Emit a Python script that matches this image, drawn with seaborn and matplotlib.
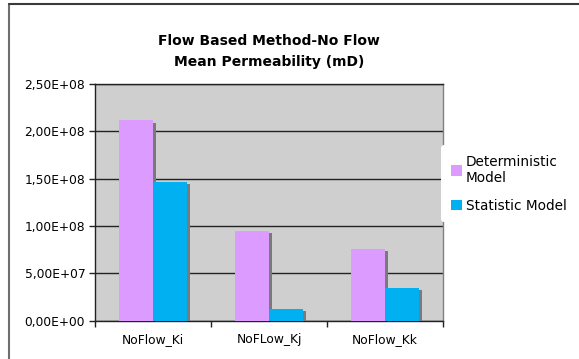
import matplotlib
matplotlib.use("Agg")
import matplotlib.pyplot as plt
import matplotlib.patheffects as pe
from matplotlib.ticker import FuncFormatter, MultipleLocator, FixedLocator
from matplotlib.lines import Line2D
import seaborn as sns
import pandas as pd

# Mean permeability per boundary case
categories = ["NoFlow_Ki", "NoFLow_Kj", "NoFlow_Kk"]
deterministic = [2.115e8, 9.45e7, 7.57e7]
statistic = [1.465e8, 1.24e7, 3.45e7]
series_names = ["Deterministic\nModel", "Statistic Model"]
title = "Flow Based Method-No Flow\nMean Permeability (mD)"

df = pd.DataFrame({
    "case": categories * 2,
    "model": [series_names[0]] * 3 + [series_names[1]] * 3,
    "value": deterministic + statistic,
})

sns.set_style("white")
plt.rcParams["font.family"] = ["DejaVu Sans"]
plt.rcParams["text.color"] = "black"
plt.rcParams["xtick.color"] = "black"
plt.rcParams["ytick.color"] = "black"

fig = plt.figure(figsize=(5.79, 3.59), dpi=100)
ax = fig.add_axes([0.164, 0.107, 0.601, 0.659])
ax.set_facecolor("#CFCFCF")

palette = {series_names[0]: "#DB9BFF", series_names[1]: "#00B0F0"}
sns.barplot(data=df, x="case", y="value", hue="model", palette=palette,
            width=0.59, saturation=1, ax=ax, zorder=3, errorbar=None,
            edgecolor="none", linewidth=0)

# drop shadow behind every bar
shadow = [pe.SimplePatchShadow(offset=(2.2, -1.6), shadow_rgbFace="#7A7A7A", alpha=1.0),
          pe.Normal()]
for p in ax.patches:
    p.set_path_effects(shadow)

ax.set_ylim(0, 2.5e8)
ax.set_xlim(-0.5, 2.5)
ax.yaxis.set_major_locator(MultipleLocator(5e7))
ax.yaxis.set_major_formatter(FuncFormatter(lambda v, _: f"{v:.2E}".replace(".", ",")))
ax.grid(axis="y", color="#222222", linewidth=1.0, zorder=1)
ax.set_axisbelow(True)

ax.xaxis.set_minor_locator(FixedLocator([-0.5, 0.5, 1.5, 2.5]))
ax.tick_params(axis="x", which="major", length=0, pad=9, labelsize=8.8, colors="black")
ax.tick_params(axis="x", which="minor", length=4, width=1, direction="out", color="#222222")
ax.tick_params(axis="y", which="major", length=4, width=1, direction="out", color="#222222",
               labelsize=8.8, labelcolor="black", pad=3)
ax.tick_params(axis="x", which="both", labelcolor="black")
ax.tick_params(bottom=True, left=True, which="both")

for side in ["left", "bottom", "top"]:
    ax.spines[side].set_color("#222222")
    ax.spines[side].set_linewidth(1.0)
ax.spines["right"].set_color("#808080")
ax.spines["right"].set_linewidth(1.0)

ax.set_xlabel("")
ax.set_ylabel("")
ax.set_title(title, fontsize=10, fontweight="bold", pad=13, linespacing=1.6, color="black")

handles, labels = ax.get_legend_handles_labels()
leg = ax.legend(handles, labels, loc="center left", bbox_to_anchor=(0.995, 0.579),
                frameon=True, fontsize=9.8, handlelength=0.8, handleheight=0.8,
                handletextpad=0.3, labelspacing=1.0, borderaxespad=0.0,
                borderpad=0.7, edgecolor="none", facecolor="white", framealpha=1)
leg.set_zorder(10)
for h in leg.legend_handles:
    h.set_path_effects([])
for t in leg.get_texts():
    t.set_color("black")

# chart frame lines
fig.add_artist(Line2D([8.5 / 579, 8.5 / 579], [0, 1 - 3.5 / 359], color="#6E6E6E", lw=1.5))
fig.add_artist(Line2D([8.5 / 579, 1], [1 - 3.5 / 359, 1 - 3.5 / 359], color="#3A3A3A", lw=1.5))

fig.savefig("out.png", dpi=100)
